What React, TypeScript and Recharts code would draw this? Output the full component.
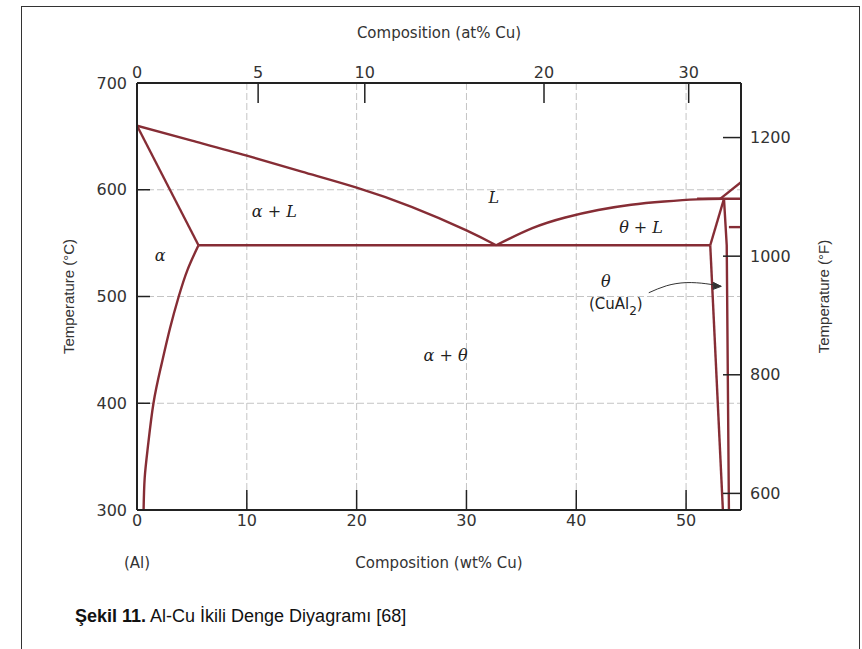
import React from "react";
import {
  ComposedChart,
  Line,
  XAxis,
  YAxis,
  CartesianGrid,
  ReferenceDot,
  Label,
} from "recharts";

// Al-Cu phase boundaries: x = composition (wt% Cu), t = temperature (°C)
const liquidusAl = [
  { x: 0, t: 660 },
  { x: 5, t: 646 },
  { x: 10, t: 632 },
  { x: 15, t: 617 },
  { x: 20, t: 602 },
  { x: 25, t: 584 },
  { x: 30, t: 562 },
  { x: 32.7, t: 548 },
];
const liquidusTheta = [
  { x: 32.7, t: 548 },
  { x: 36, t: 564 },
  { x: 39, t: 574 },
  { x: 42, t: 581 },
  { x: 45, t: 586 },
  { x: 48, t: 589 },
  { x: 51, t: 591 },
  { x: 53.3, t: 591.5 },
];
const solidusAl = [
  { x: 0, t: 660 },
  { x: 5.6, t: 548 },
];
const solvusAl = [
  { x: 5.6, t: 548 },
  { x: 4.6, t: 525 },
  { x: 3.8, t: 500 },
  { x: 3.0, t: 470 },
  { x: 2.2, t: 435 },
  { x: 1.5, t: 400 },
  { x: 1.0, t: 360 },
  { x: 0.7, t: 330 },
  { x: 0.6, t: 300 },
];
const eutectic = [
  { x: 5.6, t: 548 },
  { x: 52.2, t: 548 },
];
const thetaLeftUpper = [
  { x: 52.2, t: 548 },
  { x: 53.45, t: 591.5 },
];
const thetaLeftLower = [
  { x: 52.2, t: 548 },
  { x: 53.35, t: 300 },
];
const thetaRight = [
  { x: 53.45, t: 591.5 },
  { x: 53.7, t: 548 },
  { x: 53.9, t: 300 },
];
const peritectic = [
  { x: 51, t: 591.5 },
  { x: 55, t: 591.5 },
];
const liquidusCu = [
  { x: 53.1, t: 591.5 },
  { x: 55, t: 607 },
];
const etaBoundary = [
  { x: 53.9, t: 565 },
  { x: 55, t: 565 },
];
const arrowPath = [
  { x: 46.6, t: 503.5 },
  { x: 48.2, t: 510 },
  { x: 50, t: 513 },
  { x: 51.8, t: 512 },
  { x: 53.2, t: 509.5 },
];

const wtTicks = [0, 10, 20, 30, 40, 50];
const atTicks = [0, 5, 10, 20, 30];
const cTicks = [300, 400, 500, 600, 700];
const fTicks = [600, 800, 1000, 1200];

const phaseLabels = [
  { x: 12.5, t: 580, text: "α + L" },
  { x: 32.5, t: 592.5, text: "L" },
  { x: 45.9, t: 564.5, text: "θ + L" },
  { x: 2.1, t: 538, text: "α" },
  { x: 42.7, t: 514, text: "θ" },
  { x: 28.1, t: 445, text: "α + θ" },
];
const compoundLabel = { x: 43.6, t: 493, name: "CuAl", sub: "2" };

const CU = 63.55;
const AL = 26.98;
const atToWt = (a: number) => ((a * CU) / (a * CU + (100 - a) * AL)) * 100;
const wtToAt = (w: number) => (w / CU / (w / CU + (100 - w) / AL)) * 100;
const cToF = (c: number) => (c * 9) / 5 + 32;
const fToC = (f: number) => ((f - 32) * 5) / 9;

const LINE = "#862d35";
const AXIS = "#222";
const TICK_FONT = { fontFamily: "'DejaVu Sans', sans-serif", fontSize: 16, fill: "#333" };
const TITLE_FONT = "'Liberation Sans', Arial, sans-serif";

const boundaries = [
  liquidusAl,
  liquidusTheta,
  solidusAl,
  solvusAl,
  eutectic,
  thetaLeftUpper,
  thetaLeftLower,
  thetaRight,
];

const serifItalic = (text: string) => (p: any) => {
  const vb = p.viewBox;
  return (
    <text
      x={vb.x + vb.width / 2}
      y={vb.y + vb.height / 2}
      textAnchor="middle"
      dominantBaseline="central"
      fontFamily="'DejaVu Serif', 'Liberation Serif', serif"
      fontStyle="italic"
      fontSize={16}
      fill="#222"
    >
      {text}
    </text>
  );
};

const compoundText = (p: any) => {
  const vb = p.viewBox;
  return (
    <text
      x={vb.x + vb.width / 2}
      y={vb.y + vb.height / 2}
      textAnchor="middle"
      dominantBaseline="central"
      fontFamily="'DejaVu Sans', sans-serif"
      fontSize={15}
      fill="#222"
    >
      ({compoundLabel.name}
      <tspan baselineShift="sub" fontSize={12}>
        {compoundLabel.sub}
      </tspan>
      )
    </text>
  );
};

const ArrowHead = (props: any) => {
  const { cx, cy, index } = props;
  if (index !== arrowPath.length - 1) return <g key={`a${index}`} />;
  return (
    <path
      key={`a${index}`}
      d={`M${cx - 8},${cy - 4} L${cx},${cy} L${cx - 8},${cy + 3} Z`}
      fill="#333"
      stroke="#333"
      strokeWidth={1}
    />
  );
};

export default function App() {
  return (
    <div
      style={{
        position: "fixed",
        left: 0,
        top: 0,
        width: 862,
        height: 649,
        overflow: "hidden",
        background: "#fff",
      }}
    >
      <div
        style={{
          position: "absolute",
          left: 21,
          top: 6,
          width: 837,
          height: 700,
          border: "1.5px solid #333",
        }}
      />
      <div style={{ position: "absolute", left: 0, top: 0 }}>
        <ComposedChart
          width={862}
          height={649}
          margin={{ top: 43, right: 61, bottom: 99, left: 77 }}
        >
          <CartesianGrid stroke="#c4c4c4" strokeDasharray="7 3" strokeWidth={1} />
          <XAxis
            dataKey="x"
            type="number"
            domain={[0, 55]}
            ticks={wtTicks}
            interval={0}
            allowDataOverflow
            height={40}
            axisLine={{ stroke: AXIS, strokeWidth: 2 }}
            tickLine={{ stroke: AXIS, strokeWidth: 1.5 }}
            tickSize={-20}
            tickMargin={25}
            tick={TICK_FONT}
          >
            <Label
              content={(p: any) => {
                const vb = p.viewBox;
                return (
                  <g fontFamily="'DejaVu Sans', sans-serif" fontSize={15} fill="#333">
                    <text x={vb.x + vb.width / 2} y={vb.y + vb.height + 18} textAnchor="middle">
                      Composition (wt% Cu)
                    </text>
                    <text x={vb.x} y={vb.y + vb.height + 18} textAnchor="middle">
                      (Al)
                    </text>
                  </g>
                );
              }}
            />
          </XAxis>
          <XAxis
            xAxisId="at"
            orientation="top"
            dataKey="x"
            type="number"
            domain={[0, 55]}
            ticks={atTicks.map(atToWt)}
            tickFormatter={(v: number) => String(Math.round(wtToAt(v)))}
            interval={0}
            allowDataOverflow
            height={40}
            axisLine={{ stroke: AXIS, strokeWidth: 2 }}
            tickLine={{ stroke: AXIS, strokeWidth: 1.5 }}
            tickSize={-20}
            tickMargin={25}
            tick={TICK_FONT}
          >
            <Label
              content={(p: any) => {
                const vb = p.viewBox;
                return (
                  <text
                    x={vb.x + vb.width / 2}
                    y={vb.y - 5}
                    textAnchor="middle"
                    fontFamily="'DejaVu Sans', sans-serif"
                    fontSize={15}
                    fill="#333"
                  >
                    Composition (at% Cu)
                  </text>
                );
              }}
            />
          </XAxis>
          <YAxis
            type="number"
            domain={[300, 700]}
            ticks={cTicks}
            interval={0}
            allowDataOverflow
            width={60}
            axisLine={{ stroke: AXIS, strokeWidth: 2 }}
            tickLine={{ stroke: AXIS, strokeWidth: 1.5 }}
            tickSize={-13}
            tickMargin={23}
            tick={TICK_FONT}
          >
            <Label
              content={(p: any) => {
                const vb = p.viewBox;
                const cx = vb.x - 9;
                const cy = vb.y + vb.height / 2;
                return (
                  <text
                    x={cx}
                    y={cy}
                    transform={`rotate(-90 ${cx} ${cy})`}
                    textAnchor="middle"
                    dominantBaseline="central"
                    fontFamily={TITLE_FONT}
                    fontSize={15}
                    fill="#333"
                  >
                    Temperature (°C)
                  </text>
                );
              }}
            />
          </YAxis>
          <YAxis
            yAxisId="f"
            orientation="right"
            type="number"
            domain={[300, 700]}
            ticks={fTicks.map(fToC)}
            tickFormatter={(v: number) => String(Math.round(cToF(v)))}
            interval={0}
            allowDataOverflow
            width={60}
            axisLine={{ stroke: AXIS, strokeWidth: 2 }}
            tickLine={{ stroke: AXIS, strokeWidth: 1.5 }}
            tickSize={-18}
            tickMargin={27}
            tick={TICK_FONT}
          >
            <Label
              content={(p: any) => {
                const vb = p.viewBox;
                const cx = vb.x + vb.width + 22;
                const cy = vb.y + vb.height / 2;
                return (
                  <text
                    x={cx}
                    y={cy}
                    transform={`rotate(-90 ${cx} ${cy})`}
                    textAnchor="middle"
                    dominantBaseline="central"
                    fontFamily={TITLE_FONT}
                    fontSize={15}
                    fill="#333"
                  >
                    Temperature (°F)
                  </text>
                );
              }}
            />
          </YAxis>

          {boundaries.map((pts, i) => (
            <Line
              key={`b${i}`}
              data={pts}
              dataKey="t"
              type={pts.length > 3 ? "natural" : "linear"}
              stroke={LINE}
              strokeWidth={2.4}
              dot={false}
              activeDot={false}
              isAnimationActive={false}
            />
          ))}
          {[peritectic, liquidusCu, etaBoundary].map((pts, i) => (
            <Line
              key={`r${i}`}
              xAxisId="at"
              yAxisId="f"
              data={pts}
              dataKey="t"
              type="linear"
              stroke={LINE}
              strokeWidth={2.4}
              dot={false}
              activeDot={false}
              isAnimationActive={false}
            />
          ))}
          <Line
            data={arrowPath}
            dataKey="t"
            type="natural"
            stroke="#333"
            strokeWidth={1}
            dot={ArrowHead}
            activeDot={false}
            isAnimationActive={false}
          />

          {phaseLabels.map((l) => (
            <ReferenceDot
              key={l.text}
              x={l.x}
              y={l.t}
              r={0}
              fill="none"
              stroke="none"
              label={serifItalic(l.text)}
            />
          ))}
          <ReferenceDot
            x={compoundLabel.x}
            y={compoundLabel.t}
            r={0}
            fill="none"
            stroke="none"
            label={compoundText}
          />
        </ComposedChart>
      </div>
      <div
        style={{
          position: "absolute",
          left: 75,
          top: 606,
          fontFamily: TITLE_FONT,
          fontSize: 18,
          color: "#111",
          whiteSpace: "nowrap",
        }}
      >
        <b>Şekil 11.</b> Al-Cu İkili Denge Diyagramı [68]
      </div>
    </div>
  );
}
